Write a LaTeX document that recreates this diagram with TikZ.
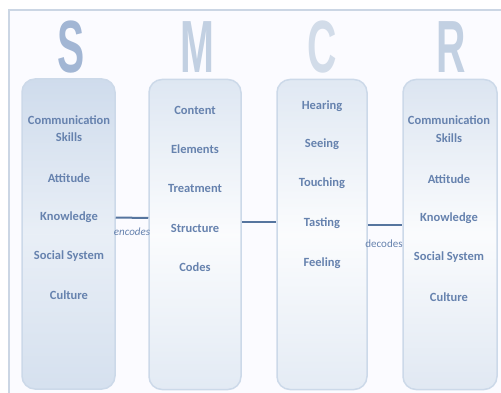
\documentclass[tikz,border=0pt]{standalone}
\usepackage{fontspec}
\setmainfont{Carlito}
\newfontfamily\bigfont{Liberation Sans}
\definecolor{txtc}{HTML}{6682AE}
\definecolor{linec}{HTML}{56759F}
\definecolor{framec}{HTML}{CBD6E4}
\definecolor{edgec}{HTML}{CCD9E9}
\definecolor{letS}{HTML}{A2B6D4}
\definecolor{letM}{HTML}{C2D0E2}
\definecolor{letC}{HTML}{D2DCE9}
\definecolor{boxS}{HTML}{BFD0E6}
\definecolor{boxM}{HTML}{D3DFEE}
\definecolor{boxC}{HTML}{D6E1EF}
\definecolor{boxR}{HTML}{D0DCEC}
\begin{document}
\begin{tikzpicture}[x=1pt,y=-1pt,
  box/.style={draw=edgec, line width=1.5pt, rounded corners=13pt, shading=axis,
    top color=#1!75!white, bottom color=#1!65!white, middle color=#1!10!white,
    minimum height=310pt, inner sep=0pt},
  item/.style={text=txtc, font=\bfseries\fontsize{12.5}{14}\selectfont, inner sep=0pt, align=center},
  letter/.style={text=#1, font=\bigfont\bfseries\fontsize{74}{74}\selectfont, inner sep=0pt},
  conn/.style={draw=linec, line width=2pt},
  lbl/.style={text=txtc, font=\fontsize{11}{12}\selectfont, inner sep=0pt}]
\useasboundingbox (0,0) rectangle (501,393);
\fill[white] (0,0) rectangle (501,393);
\fill[white!96!blue!40!white] (9,10) rectangle (520,410);
\draw[framec, line width=1.2pt] (9,10) rectangle (520,410);
% letters
\node[letter=letS] (LS) at (71,47) {\scalebox{0.55}[1]{S}};
\node[letter=letM] (LM) at (197,47) {\scalebox{0.55}[1]{M}};
\node[letter=letC] (LC) at (322,47) {\scalebox{0.55}[1]{C}};
\node[letter=letM] (LR) at (451,47) {\scalebox{0.55}[1]{R}};
% boxes
\node[box=boxS, minimum width=93pt, middle color=boxS!35!white] (S) at (68.5,234) {};
\node[box=boxM, minimum width=92pt] (M) at (195,234.5) {};
\node[box=boxC, minimum width=90pt] (C) at (322,234.5) {};
\node[box=boxR, minimum width=94pt] (R) at (450,234.5) {};
% S items
\node[item] (s1) at (69,120) {Communication};
\node[item] (s2) at (69,137) {Skills};
\node[item] (s3) at (69,178) {Attitude};
\node[item] (s4) at (69,217) {Knowledge};
\node[item] (s5) at (69,256) {Social System};
\node[item] (s6) at (69,295) {Culture};
% M items
\node[item] (m1) at (195,110) {Content};
\node[item] (m2) at (195,149) {Elements};
\node[item] (m3) at (195,188) {Treatment};
\node[item] (m4) at (195,228) {Structure};
\node[item] (m5) at (195,267) {Codes};
% C items
\node[item] (c1) at (322,106) {Hearing};
\node[item] (c2) at (322,144) {Seeing};
\node[item] (c3) at (322,183) {Touching};
\node[item] (c4) at (322,223) {Tasting};
\node[item] (c5) at (322,263) {Feeling};
% R items
\node[item] (r1) at (449,120) {Communication};
\node[item] (r2) at (449,138) {Skills};
\node[item] (r3) at (449,179) {Attitude};
\node[item] (r4) at (449,218) {Knowledge};
\node[item] (r5) at (449,257) {Social System};
\node[item] (r6) at (449,297) {Culture};
% connectors
\draw[conn] ([yshift=16.5pt]S.east) -- ([yshift=16.5pt]M.west);
\draw[conn] ([yshift=12.5pt]M.east) -- ([yshift=12.5pt]C.west);
\draw[conn] ([yshift=9.5pt]C.east) -- ([yshift=9.5pt]R.west);
\node[lbl] (enc) at (132,232) {\itshape encodes};
\node[lbl] (dec) at (384,244) {decodes};
\end{tikzpicture}
\end{document}
